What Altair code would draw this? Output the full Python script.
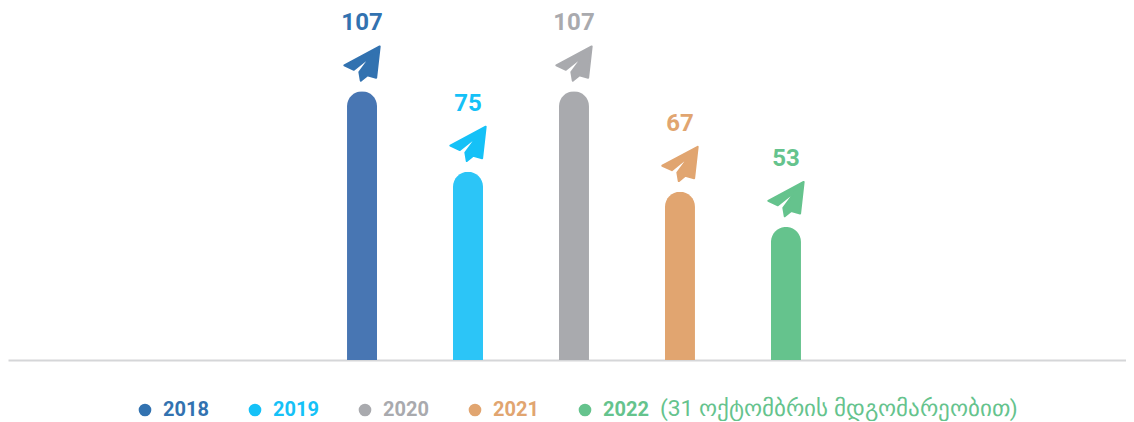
import altair as alt
import pandas as pd

years = ["2018", "2019", "2020", "2021", "2022"]
values = [107, 75, 107, 67, 53]
bar_colors = ["#4876B3", "#2CC5F7", "#A9AAAE", "#E1A570", "#65C38D"]
accent_colors = ["#3272B0", "#15C1F7", "#A9AAAE", "#E1A570", "#65C38D"]
positions = [0, 1, 2, 3, 4]
note = "(31 ოქტომბრის მდგომარეობით)"

PLANE = ("M1,-0.96 L-1,0.11 L-0.46,0.36 L0.55,-0.45 L-0.15,0.50 L-0.07,0.98 "
         "L0.30,0.68 L0.80,0.82 Z")
FONT = "Roboto"

df = pd.DataFrame({"year": years, "value": values, "pos": positions, "accent": accent_colors})

x = alt.X("pos:Q", scale=alt.Scale(domain=[-3.34, 7.208], nice=False, zero=False, padding=0),
          axis=alt.Axis(title=None, labels=False, ticks=False, grid=False,
                        domainColor="#D5D6D8", domainWidth=2))
y = alt.Y("value:Q", scale=alt.Scale(domain=[0, 140.2], nice=False), axis=None)

label_color = ("{'2018':'%s','2019':'%s','2020':'%s','2021':'%s','2022':'%s'}[datum.value]"
               % tuple(accent_colors))

bars = alt.Chart(df).mark_bar(size=30, cornerRadiusTopLeft=15, cornerRadiusTopRight=15).encode(
    x=x, y=y,
    color=alt.Color("year:N", scale=alt.Scale(domain=years, range=accent_colors), legend=None),
    fill=alt.Fill("year:N", scale=alt.Scale(domain=years, range=bar_colors), legend=None),
)

legend_marks = alt.Chart(df).mark_point(filled=True, size=0, opacity=0).encode(
    x=alt.X("pos:Q"), y=alt.Y("value:Q"),
    color=alt.Color("year:N", scale=alt.Scale(domain=years, range=accent_colors),
                    legend=alt.Legend(
                        title=None, orient="none", legendX=127, legendY=392,
                        direction="horizontal", symbolType="circle", symbolSize=160,
                        symbolStrokeWidth=0, symbolOpacity=1, labelFont=FONT, labelFontSize=20,
                        labelFontWeight="bold", columnPadding=36, labelOffset=8,
                        labelColor={"expr": label_color})),
)

planes = alt.Chart(df).mark_point(shape=PLANE, size=1250, filled=True, opacity=1, yOffset=-28,
                                  strokeWidth=2, strokeJoin="round").encode(
    x=alt.X("pos:Q"), y=alt.Y("value:Q"),
    fill=alt.Fill("accent:N", scale=None), stroke=alt.Stroke("accent:N", scale=None),
)

labels = alt.Chart(df).mark_text(font=FONT, fontSize=24, fontWeight="bold", yOffset=-68).encode(
    x=alt.X("pos:Q"), y=alt.Y("value:Q"), text=alt.Text("value:Q"),
    color=alt.Color("accent:N", scale=None),
)

suffix = alt.Chart(pd.DataFrame({"t": [note]})).mark_text(
    font=FONT, fontSize=22.8, align="left", baseline="middle", color=accent_colors[4]
).encode(x=alt.value(652), y=alt.value(401), text="t:N")

chart = alt.layer(bars, legend_marks, planes, labels, suffix).resolve_scale(
    color="independent", fill="independent"
).properties(width=1118, height=352, padding=0, background="white").configure_view(stroke=None)

chart.save("out.html", embed_options={"renderer": "svg", "actions": False})
